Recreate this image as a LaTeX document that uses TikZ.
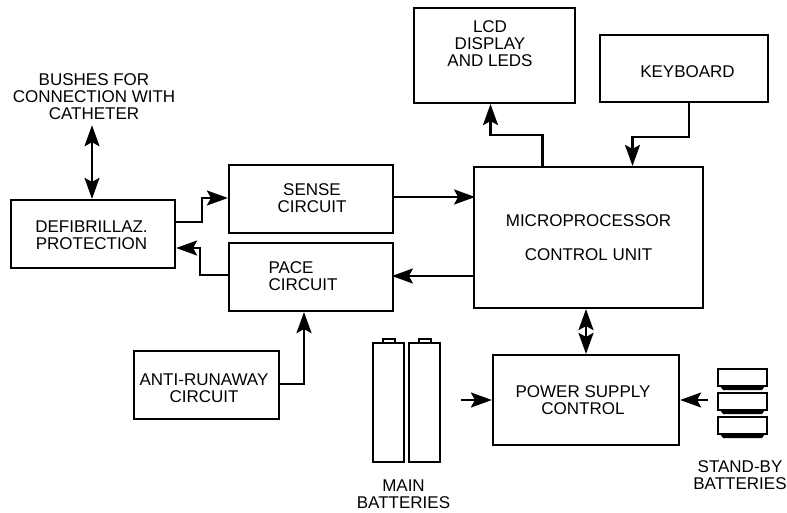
\documentclass[tikz,border=0pt]{standalone}
\usepackage{fontspec}
\setmainfont{Liberation Sans}
\usetikzlibrary{arrows.meta}

\tikzset{
    block/.style={draw, line width=2.2pt, inner sep=0pt, align=center, font=\fontsize{17}{17}\selectfont},
    caption/.style={inner sep=0pt, align=center, font=\fontsize{17}{17}\selectfont},
    link/.style={line width=2.2pt, -{Stealth[length=21pt,width=15pt,inset=4pt]}},
    bothlink/.style={line width=2.2pt, {Stealth[length=21pt,width=15pt,inset=4pt]}-{Stealth[length=21pt,width=15pt,inset=4pt]}}
}

\begin{document}
\begin{tikzpicture}[x=1pt, y=-1pt]
\useasboundingbox (0,0) rectangle (787,513);

% Blocks
\node[block, minimum width=161pt, minimum height=95pt] (lcd) at (494.5,55.5) {};
\node[block, minimum width=168pt, minimum height=67pt] (keyboard) at (684,68.5) {};
\node[block, minimum width=229pt, minimum height=141pt] (micro) at (588.5,237.5) {MICROPROCESSOR\\[17pt]CONTROL UNIT};
\node[block, minimum width=164pt, minimum height=68pt] (sense) at (311,199) {};
\node[block, minimum width=164pt, minimum height=68pt] (pace) at (311,277) {};
\node[block, minimum width=164pt, minimum height=68pt] (defib) at (93,234) {};
\node[block, minimum width=145pt, minimum height=68pt] (antirun) at (206.5,385) {};
\node[block, minimum width=186pt, minimum height=90pt] (power) at (586,400) {};

% Text
\node[caption] (lcdtext) at (490,44) {LCD\\DISPLAY\\AND LEDS};
\node[caption] (keytext) at (687.5,72) {KEYBOARD};
\node[caption] (sensetext) at (312,198) {SENSE\\CIRCUIT};
\node[caption, align=left] (pacetext) at (303,276) {PACE\\CIRCUIT};
\node[caption] (defibtext) at (91.5,235) {DEFIBRILLAZ.\\PROTECTION};
\node[caption] (antitext) at (204,388) {ANTI-RUNAWAY\\CIRCUIT};
\node[caption] (powertext) at (583,400) {POWER SUPPLY\\CONTROL};
\node[caption] (bushes) at (94,97) {BUSHES FOR\\CONNECTION WITH\\CATHETER};
\node[caption] (mainlabel) at (403.5,494) {MAIN\\BATTERIES};
\node[caption] (standbylabel) at (740,475) {STAND-BY\\BATTERIES};

% Main batteries
\foreach \x in {373,409} {
    \draw[line width=2.2pt] (\x,343) rectangle (\x+31,462);
    \draw[line width=1.2pt] (\x+10,343) -- (\x+10,339) -- (\x+22,339) -- (\x+22,343);
}

% Stand-by batteries
\foreach \y in {369,393,417} {
    \draw[line width=2.2pt] (718,\y) rectangle (767,\y+17);
    \fill (720,\y+17) -- (765,\y+17) -- (762,\y+21) -- (723,\y+21) -- cycle;
}

% Free ends
\coordinate (mainout) at (461,400);
\coordinate (standbyout) at (708,400);

% Connections
\draw[bothlink] (defib.north |- bushes.south) ++(-1,5) -- ([xshift=-1pt]defib.north);
\draw[link] ([yshift=12pt]defib.east) -- ++(26,0) |- ([yshift=1pt]sense.west);
\draw[link] ([yshift=2pt]pace.west) -- ++(-28,0) |- ([yshift=-14pt]defib.east);
\draw[link] ([yshift=2pt]sense.east) -- ++(81,0);
\draw[link] ([yshift=-38.5pt]micro.west) -- ++(-81,0);
\draw[link] ([yshift=1pt]antirun.east) -| ([xshift=-7pt]pace.south);
\draw[link] ([xshift=-46pt]micro.north) -- ++(0,-31) -| ([xshift=-4pt]lcd.south);
\draw[link] ([xshift=5pt]keyboard.south) -- ++(0,34) -| ([xshift=44pt]micro.north);
\draw[bothlink] (micro.south -| power.north) -- (power.north);
\draw[link] (mainout) -- (mainout -| power.west);
\draw[link] (standbyout) -- (standbyout -| power.east);

\end{tikzpicture}
\end{document}
